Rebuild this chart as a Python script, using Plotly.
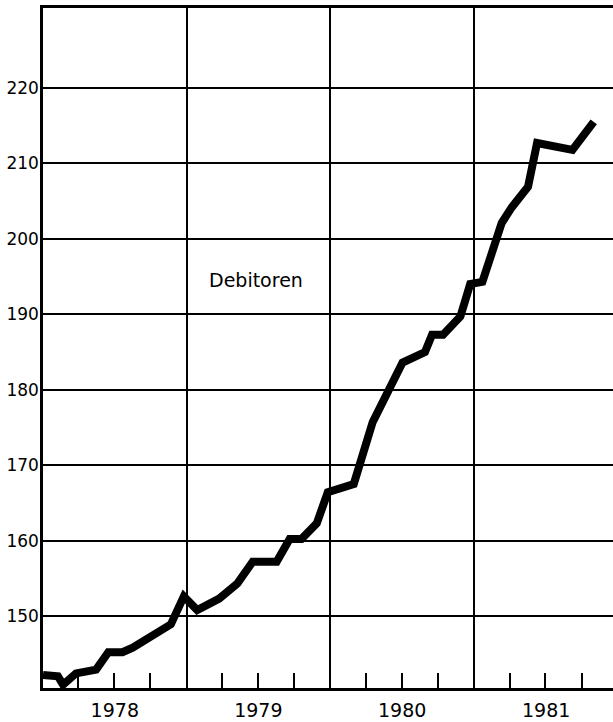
import plotly.graph_objs as go

# Debitoren, knots
dates = ['1978-01-01', '1978-02-08', '1978-02-21', '1978-03-26', '1978-05-16',
         '1978-06-16', '1978-07-22', '1978-08-17', '1978-11-22', '1978-12-25',
         '1979-01-28', '1979-03-25', '1979-05-10', '1979-06-18', '1979-08-18',
         '1979-09-20', '1979-10-20', '1979-11-28', '1979-12-26', '1980-03-01',
         '1980-04-18', '1980-05-26', '1980-07-03', '1980-08-29', '1980-09-16',
         '1980-10-14', '1980-11-27', '1980-12-22', '1981-01-22', '1981-03-12',
         '1981-04-07', '1981-05-18', '1981-06-10', '1981-09-08', '1981-11-01']
debitoren = [142.2, 142.0, 140.9, 142.4, 142.9,
             145.2, 145.2, 145.8, 148.9, 152.6,
             150.8, 152.3, 154.3, 157.2, 157.2,
             160.2, 160.2, 162.3, 166.4, 167.5,
             175.7, 179.6, 183.6, 185.0, 187.3,
             187.3, 189.7, 194.0, 194.3, 202.1,
             204.2, 206.9, 212.7, 211.8, 215.5]

y_ticks = [150, 160, 170, 180, 190, 200, 210, 220]
label = 'Debitoren'

trace = go.Scatter(
    x=dates, y=debitoren,
    mode='lines',
    line=dict(color='black', width=8),
    showlegend=False,
    hoverinfo='skip')

layout = go.Layout(
    width=613, height=722,
    margin=dict(l=43, r=0, t=8, b=34, autoexpand=False),
    plot_bgcolor='white',
    paper_bgcolor='white',
    font=dict(family='DejaVu Sans, sans-serif', color='black', size=17),
    xaxis=dict(
        type='date',
        range=['1978-01-01', '1981-12-20'],
        tick0='1978-01-01',
        dtick='M12',
        tickformat='%Y',
        ticklabelmode='period',
        ticks='',
        ticklabelstandoff=3,
        tickfont=dict(size=19),
        automargin=False,
        showgrid=True, gridcolor='black', gridwidth=1.5,
        showline=True, linecolor='black', linewidth=2.5, mirror=True,
        minor=dict(dtick='M3', ticks='inside', ticklen=15, tickwidth=2,
                   tickcolor='black', showgrid=False),
        zeroline=False),
    yaxis=dict(
        range=[140.46, 230.6],
        tickvals=y_ticks,
        ticks='',
        ticklabelstandoff=-2,
        tickfont=dict(size=17),
        automargin=False,
        showgrid=True, gridcolor='black', gridwidth=1.5,
        showline=True, linecolor='black', linewidth=2.5,
        zeroline=False),
    annotations=[dict(x='1979-06-27', y=194.5, text=label, showarrow=False,
                      font=dict(size=19))])

fig = go.Figure(data=[trace], layout=layout)
fig.write_html("out.html", config={'displayModeBar': False},
               post_script="document.body.style.margin='0';")
